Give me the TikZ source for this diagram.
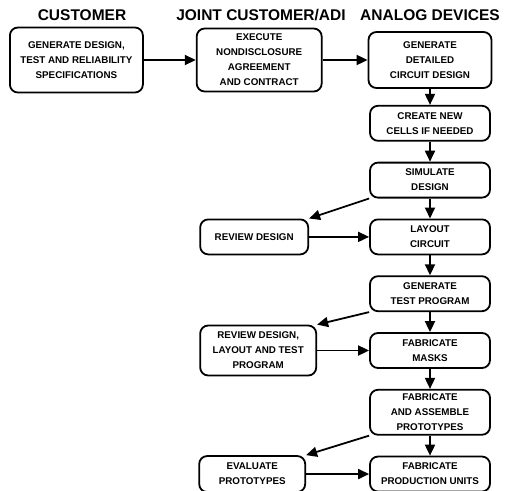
\documentclass[tikz,border=0pt]{standalone}
\usepackage{fontspec}
\setmainfont{Liberation Sans}
\usepackage{tikz}
\usetikzlibrary{positioning,arrows.meta}

\begin{document}
\begin{tikzpicture}[
x=1pt, y=-1pt,
node distance=20pt,
stage/.style={
draw,
line width=1.8pt,
rectangle,
rounded corners=8pt,
align=center,
inner sep=4pt,
minimum width=120pt,
minimum height=35pt,
font=\fontsize{9.8}{15}\selectfont\bfseries
},
head/.style={
inner sep=0pt,
font=\fontsize{15.5}{17}\selectfont\bfseries
},
flow/.style={
line width=1.8pt,
-{Triangle[length=11pt,width=10pt]}
}
]
\useasboundingbox (0,0) rectangle (508,490);

\node[head] (hcust) at (82,15) {CUSTOMER};
\node[head] (hjoint) at (261,15) {JOINT CUSTOMER/ADI};
\node[head] (hadi) at (430,15) {ANALOG DEVICES};

\node[stage, minimum width=123pt, minimum height=56pt] (gen) at (430,60) {GENERATE\\DETAILED\\CIRCUIT DESIGN};
\node[stage, minimum width=125pt, minimum height=63pt] (joint) [left=45pt of gen] {EXECUTE\\NONDISCLOSURE\\AGREEMENT\\AND CONTRACT};
\node[stage, minimum width=133pt, minimum height=65pt] (cust) [left=52pt of joint] {GENERATE DESIGN,\\TEST AND RELIABILITY\\SPECIFICATIONS};

\node[stage] (cells) [below=16pt of gen] {CREATE NEW\\CELLS IF NEEDED};
\node[stage] (sim) [below=of cells] {SIMULATE\\DESIGN};
\node[stage] (layout) [below=of sim] {LAYOUT\\CIRCUIT};
\node[stage] (testprog) [below=of layout] {GENERATE\\TEST PROGRAM};
\node[stage] (masks) [below=of testprog] {FABRICATE\\MASKS};
\node[stage] (proto) [below=of masks] {FABRICATE\\AND ASSEMBLE\\PROTOTYPES};
\node[stage] (prod) [below=of proto] {FABRICATE\\PRODUCTION UNITS};

\node[stage, minimum width=108pt] (rev1) [left=60pt of layout] {REVIEW DESIGN};
\node[stage, minimum width=116pt, minimum height=50pt] (rev2) [left=52pt of masks] {REVIEW DESIGN,\\LAYOUT AND TEST\\PROGRAM};
\node[stage, minimum width=106pt, minimum height=36pt] (eval) [left=63pt of prod] {EVALUATE\\PROTOTYPES};

\draw[flow] (cust) -- (joint);
\draw[flow] (joint) -- (gen);

\draw[flow] (gen) -- (cells);
\draw[flow] (cells) -- (sim);
\draw[flow] (sim) -- (layout);
\draw[flow] (layout) -- (testprog);
\draw[flow] (testprog) -- (masks);
\draw[flow] (masks) -- (proto);
\draw[flow] (proto) -- (prod);

\draw[flow] (sim.south west) -- (rev1.north east);
\draw[flow] (testprog.south west) -- (rev2.north east);
\draw[flow] (proto.south west) -- (eval.north east);

\draw[flow] (rev1) -- (layout);
\draw[flow] (rev2) -- (masks);
\draw[flow] (eval) -- (prod);

\end{tikzpicture}
\end{document}
